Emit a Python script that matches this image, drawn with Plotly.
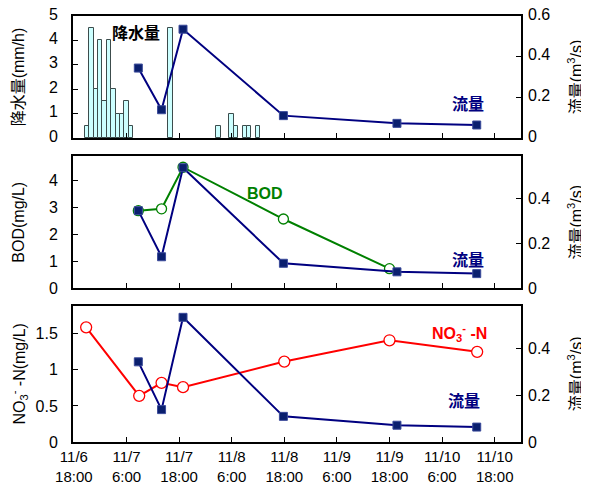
import plotly.graph_objects as go

# hours since 11/6 18:00
rain_hours = [3, 4, 5, 6, 7, 8, 9, 10, 11, 12, 13, 22, 33, 36, 37, 39, 40, 42]
rain_vals = [0.5, 4.5, 2.0, 4.0, 1.5, 4.0, 2.0, 1.0, 1.0, 1.5, 0.5, 4.5, 0.5, 1.0, 0.5, 0.5, 0.5, 0.5]

flow_hours = [14.7, 20.0, 24.9, 47.8, 73.7, 91.9]
flow_vals = [0.344, 0.139, 0.535, 0.110, 0.072, 0.064]

bod_hours = [14.7, 20.0, 24.9, 47.8, 72.0]
bod_vals = [2.88, 2.95, 4.5, 2.57, 0.72]

no3_hours = [2.8, 14.9, 20.0, 24.9, 48.0, 72.0, 92.0]
no3_vals = [1.59, 0.64, 0.82, 0.76, 1.115, 1.41, 1.25]

tick_hours = [0, 12, 24, 36, 48, 60, 72, 84, 96]
tick_text = ["11/6<br>18:00", "11/7<br>6:00", "11/7<br>18:00", "11/8<br>6:00", "11/8<br>18:00",
             "11/9<br>6:00", "11/9<br>18:00", "11/10<br>6:00", "11/10<br>18:00"]

FONT = "Arial, 'Liberation Sans', 'Noto Sans CJK JP', sans-serif"
NAVY = "#000080"
MARK = "#0a1f6e"

fig = go.Figure()

fig.add_trace(go.Bar(x=rain_hours, y=rain_vals, width=1, xaxis="x", yaxis="y",
                     marker=dict(color="#ccffff", line=dict(color="#3c4c4c", width=1))))
fig.add_trace(go.Scatter(x=flow_hours, y=flow_vals, xaxis="x", yaxis="y2", mode="lines+markers",
                         line=dict(color=NAVY, width=2),
                         marker=dict(symbol="square", size=8, color=MARK, line=dict(color="#3a4a9a", width=1))))

fig.add_trace(go.Scatter(x=bod_hours, y=bod_vals, xaxis="x2", yaxis="y3", mode="lines+markers",
                         line=dict(color="#008000", width=2),
                         marker=dict(symbol="circle", size=10, color="white", line=dict(color="#008000", width=1.3))))
fig.add_trace(go.Scatter(x=flow_hours, y=flow_vals, xaxis="x2", yaxis="y4", mode="lines+markers",
                         line=dict(color=NAVY, width=2),
                         marker=dict(symbol="square", size=8, color=MARK, line=dict(color="#3a4a9a", width=1))))

fig.add_trace(go.Scatter(x=no3_hours, y=no3_vals, xaxis="x3", yaxis="y5", mode="lines+markers",
                         line=dict(color="#ff0000", width=2),
                         marker=dict(symbol="circle", size=11, color="white", line=dict(color="#ff0000", width=1.3))))
fig.add_trace(go.Scatter(x=flow_hours, y=flow_vals, xaxis="x3", yaxis="y6", mode="lines+markers",
                         line=dict(color=NAVY, width=2),
                         marker=dict(symbol="square", size=8, color=MARK, line=dict(color="#3a4a9a", width=1))))

xr = [-0.2, 102]
def xax(anchor, labels):
    return dict(range=xr, anchor=anchor, tickvals=tick_hours, ticktext=tick_text,
                showticklabels=labels, ticks="inside", ticklen=5, tickcolor="black",
                showline=True, linewidth=2, linecolor="black", mirror=True, automargin=False,
                showgrid=False, zeroline=False, tickfont=dict(size=15, color="black"),
                ticklabeloverflow="allow")

def yleft(domain, rng, tv, tt, title, anchor, shift=0):
    return dict(domain=domain, range=rng, anchor=anchor, tickvals=tv, ticktext=tt,
                ticks="inside", ticklen=5, tickcolor="black", showline=True, linewidth=2,
                linecolor="black", mirror=True, showgrid=False, zeroline=False, automargin=False,
                tickfont=dict(size=16, color="black"), ticklabelstandoff=10, ticklabeloverflow="allow",
                ticklabelshift=shift,
                title=dict(text=title, font=dict(size=16, color="black"), standoff=20))

def yright(overlay, anchor, rng, tv, tt, shift=0):
    return dict(overlaying=overlay, anchor=anchor, side="right", range=rng, tickvals=tv, ticktext=tt,
                ticks="inside", ticklen=5, tickcolor="black", showline=False, showgrid=False,
                zeroline=False, automargin=False, tickfont=dict(size=16, color="black"), ticklabelstandoff=6,
                ticklabeloverflow="allow", ticklabelshift=shift,
                title=dict(text="流量(m<sup>3</sup>/s)", font=dict(size=16, color="black"), standoff=21))

fig.update_layout(
    width=589, height=494,
    margin=dict(l=65, r=76, t=8, b=60),
    paper_bgcolor="white", plot_bgcolor="white",
    font=dict(family=FONT, color="black"),
    showlegend=False, bargap=0,
    xaxis=xax("y", False),
    xaxis2=xax("y3", False),
    xaxis3=xax("y5", True),
    yaxis=yleft([0.7136, 1.0], [0, 5], [0, 1, 2, 3, 4, 5], ["0", "1", "2", "3", "4", "5"],
                "降水量(mm/h)", "x", shift=-2),
    yaxis2=yright("y", "x", [0, 0.6], [0, 0.2, 0.4, 0.6], ["0", "0.2", "0.4", "0.6"], shift=-2),
    yaxis3=yleft([0.3615, 0.6702], [0, 4.9], [0, 1, 2, 3, 4], ["0", "1", "2", "3", "4"], "BOD(mg/L)", "x2"),
    yaxis4=yright("y3", "x2", [0, 0.585], [0, 0.2, 0.4], ["0", "0.2", "0.4"]),
    yaxis5=yleft([0.0, 0.320], [0, 1.89], [0, 0.5, 1, 1.5], ["0", "0.5", "1", "1.5"],
                 "NO<sub>3</sub><sup>-</sup> -N(mg/L)", "x3"),
    yaxis6=yright("y5", "x3", [0, 0.585], [0, 0.2, 0.4], ["0", "0.2", "0.4"]),
)

ann = [
    dict(text="<b>降水量</b>", x=14.1, y=4.3, xref="x", yref="y", font=dict(size=16, color="black")),
    dict(text="<b>流量</b>", x=90, y=0.163, xref="x", yref="y2", font=dict(size=16, color=NAVY)),
    dict(text="<b>BOD</b>", x=43.6, y=3.52, xref="x2", yref="y3", font=dict(size=16, color="#008000")),
    dict(text="<b>流量</b>", x=90, y=1.02, xref="x2", yref="y3", font=dict(size=16, color=NAVY)),
    dict(text="<b>NO<sub>3</sub><sup>-</sup> -N</b>", x=87.9, y=1.51, xref="x3", yref="y5",
         font=dict(size=16, color="#ff0000")),
    dict(text="<b>流量</b>", x=89.1, y=0.556, xref="x3", yref="y5", font=dict(size=16, color=NAVY)),
]
for a in ann:
    a.update(showarrow=False, xanchor="center", yanchor="middle")
fig.update_layout(annotations=ann)

fig.write_html("out.html")
